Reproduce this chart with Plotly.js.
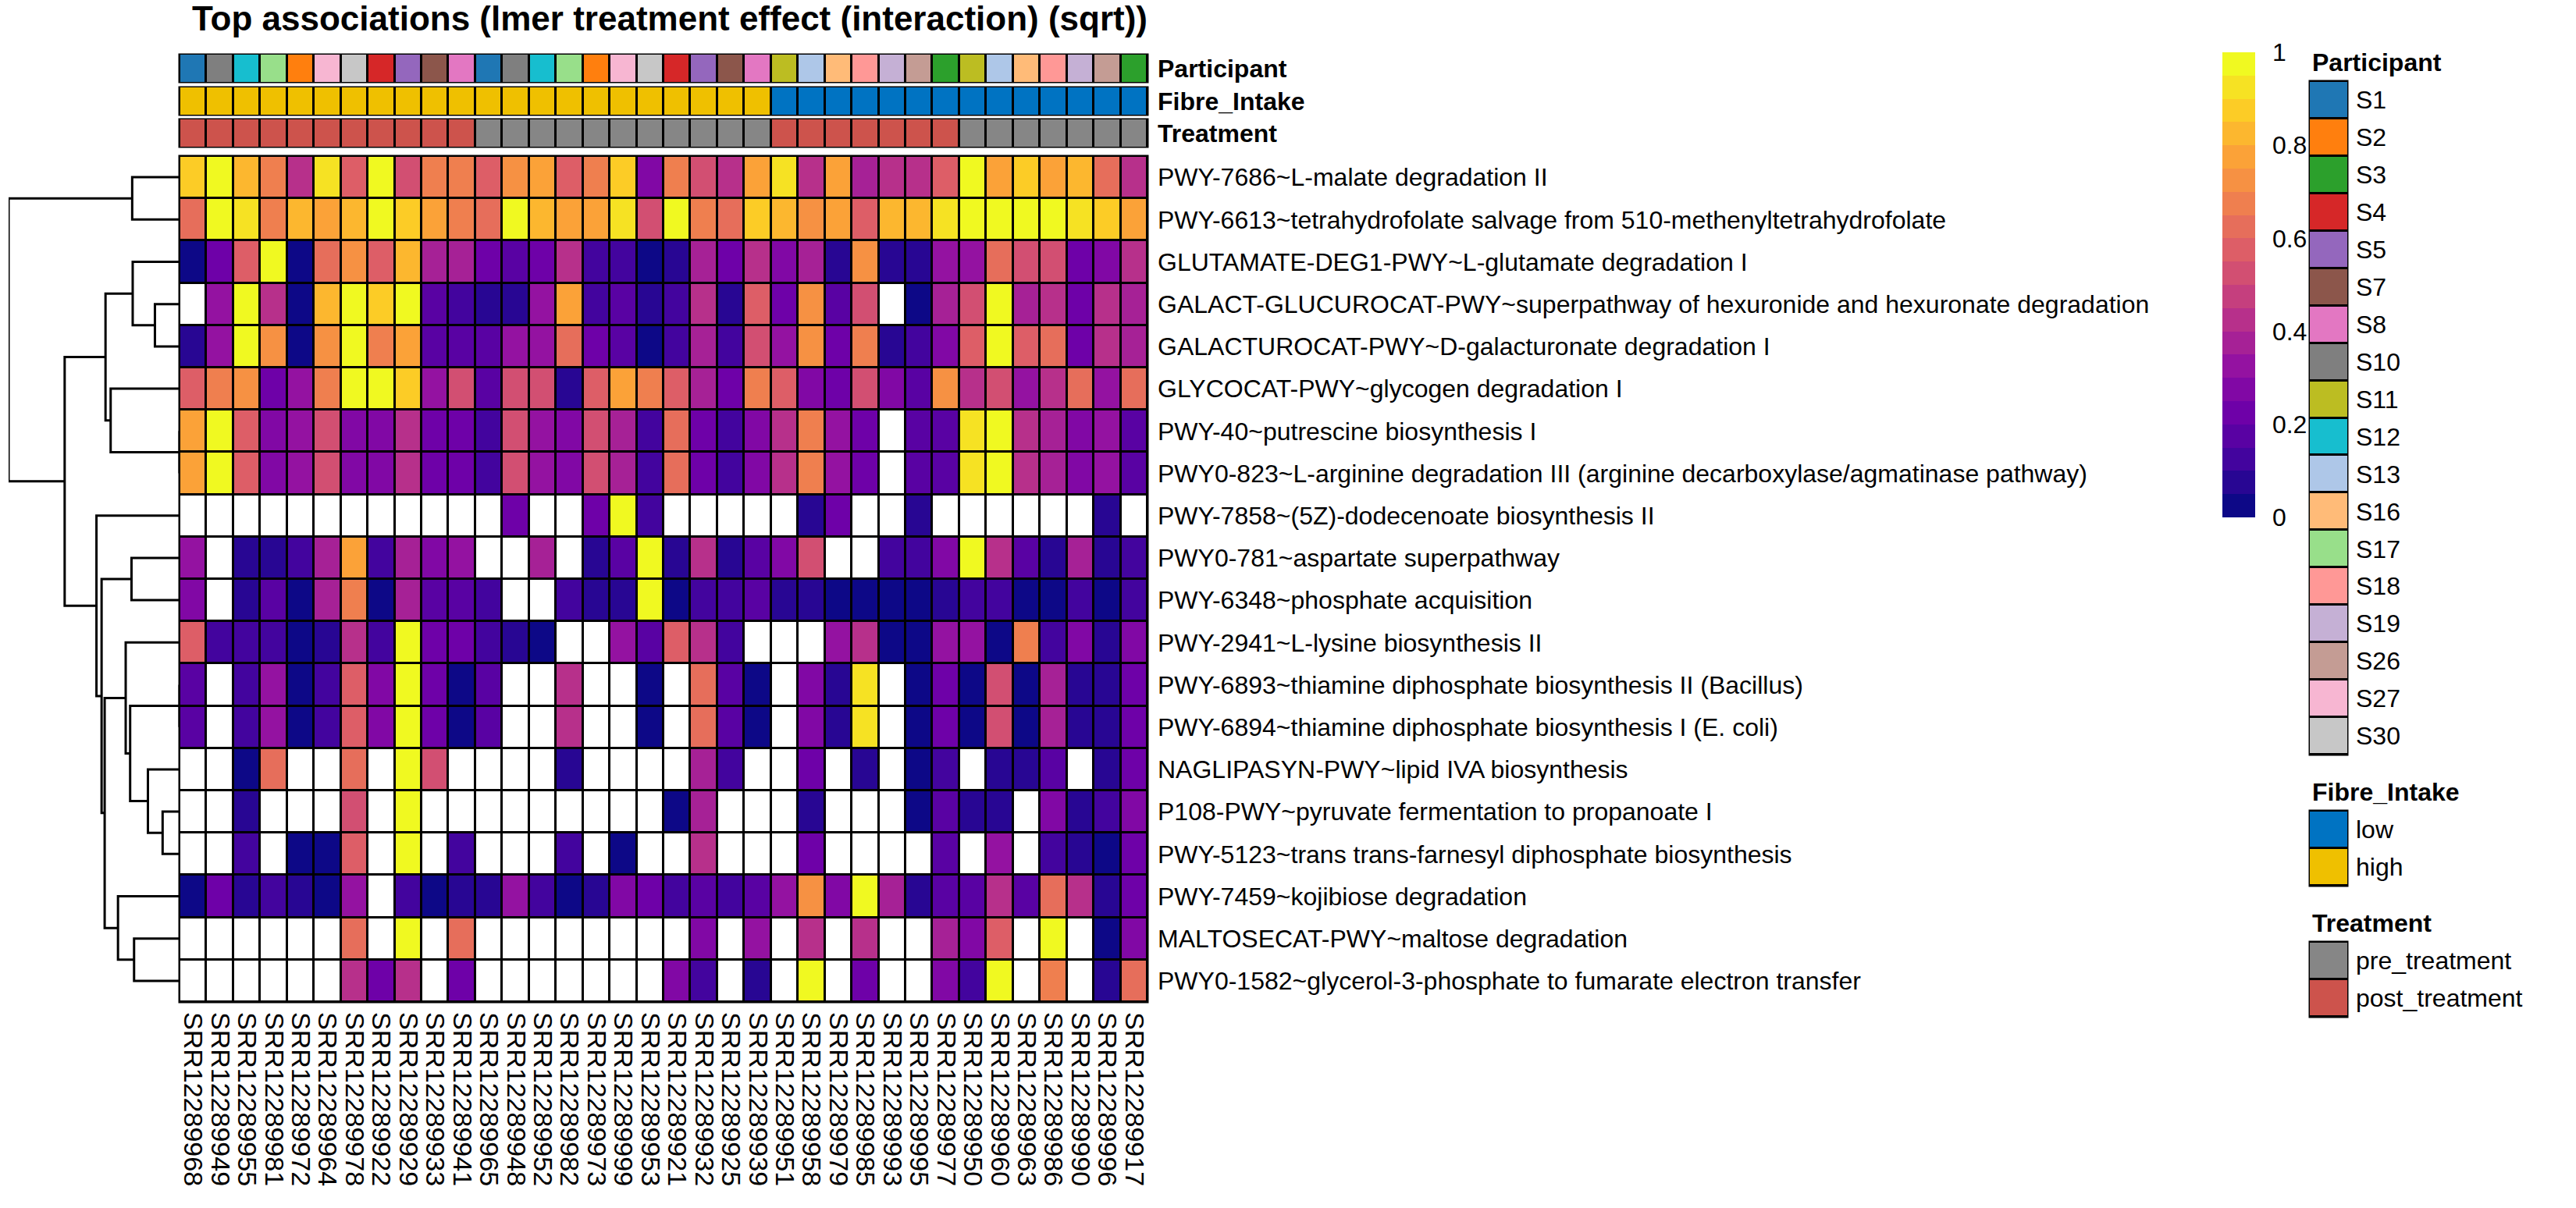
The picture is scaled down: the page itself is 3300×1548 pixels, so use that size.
<!DOCTYPE html>
<html><head><meta charset="utf-8">
<script src="https://cdn.plot.ly/plotly-3.0.1.min.js"></script>
<style>html,body{margin:0;padding:0;background:#fff;} #chart{width:3300px;height:1548px;}</style>
</head><body><div id="chart"></div>
<script>
// ---------------- DATA ----------------
const rowLabels = [
  "PWY-7686~L-malate degradation II",
  "PWY-6613~tetrahydrofolate salvage from 510-methenyltetrahydrofolate",
  "GLUTAMATE-DEG1-PWY~L-glutamate degradation I",
  "GALACT-GLUCUROCAT-PWY~superpathway of hexuronide and hexuronate degradation",
  "GALACTUROCAT-PWY~D-galacturonate degradation I",
  "GLYCOCAT-PWY~glycogen degradation I",
  "PWY-40~putrescine biosynthesis I",
  "PWY0-823~L-arginine degradation III (arginine decarboxylase/agmatinase pathway)",
  "PWY-7858~(5Z)-dodecenoate biosynthesis II",
  "PWY0-781~aspartate superpathway",
  "PWY-6348~phosphate acquisition",
  "PWY-2941~L-lysine biosynthesis II",
  "PWY-6893~thiamine diphosphate biosynthesis II (Bacillus)",
  "PWY-6894~thiamine diphosphate biosynthesis I (E. coli)",
  "NAGLIPASYN-PWY~lipid IVA biosynthesis",
  "P108-PWY~pyruvate fermentation to propanoate I",
  "PWY-5123~trans trans-farnesyl diphosphate biosynthesis",
  "PWY-7459~kojibiose degradation",
  "MALTOSECAT-PWY~maltose degradation",
  "PWY0-1582~glycerol-3-phosphate to fumarate electron transfer"
];
const colLabels = ["SRR12289968","SRR12289949","SRR12289955","SRR12289981","SRR12289972","SRR12289964",
  "SRR12289978","SRR12289922","SRR12289929","SRR12289933","SRR12289941","SRR12289965","SRR12289948",
  "SRR12289952","SRR12289982","SRR12289973","SRR12289999","SRR12289953","SRR12289921","SRR12289932",
  "SRR12289925","SRR12289939","SRR12289951","SRR12289958","SRR12289979","SRR12289985","SRR12289993",
  "SRR12289995","SRR12289977","SRR12289950","SRR12289960","SRR12289963","SRR12289986","SRR12289990",
  "SRR12289996","SRR12289917"];

const participants = ["S1","S10","S12","S17","S2","S27","S30","S4","S5","S7","S8",
  "S1","S10","S12","S17","S2","S27","S30","S4","S5","S7","S8",
  "S11","S13","S16","S18","S19","S26","S3",
  "S11","S13","S16","S18","S19","S26","S3"];
const fibreIntake = ["high","high","high","high","high","high","high","high","high","high","high",
  "high","high","high","high","high","high","high","high","high","high","high",
  "low","low","low","low","low","low","low","low","low","low","low","low","low","low"];
const treatment = ["post_treatment","post_treatment","post_treatment","post_treatment","post_treatment","post_treatment",
  "post_treatment","post_treatment","post_treatment","post_treatment","post_treatment",
  "pre_treatment","pre_treatment","pre_treatment","pre_treatment","pre_treatment","pre_treatment",
  "pre_treatment","pre_treatment","pre_treatment","pre_treatment","pre_treatment",
  "post_treatment","post_treatment","post_treatment","post_treatment","post_treatment","post_treatment","post_treatment",
  "pre_treatment","pre_treatment","pre_treatment","pre_treatment","pre_treatment","pre_treatment","pre_treatment"];

const participantLevels = ["S1","S2","S3","S4","S5","S7","S8","S10","S11","S12","S13","S16","S17","S18","S19","S26","S27","S30"];
const participantColors = ["#1F77B4","#FF7F0E","#2CA02C","#D62728","#9467BD","#8C564B","#E377C2","#7F7F7F","#BCBD22",
  "#17BECF","#AEC7E8","#FFBB78","#98DF8A","#FF9896","#C5B0D5","#C49C94","#F7B6D2","#C7C7C7"];
const fibreLevels = ["low","high"];
const fibreColors = ["#0073C2","#EFC000"];
const treatmentLevels = ["pre_treatment","post_treatment"];
const treatmentColors = ["#868686","#CD534C"];

const N = null;
const values = [
 [0.88,1.0,0.84,0.65,0.44,0.94,0.55,1.0,0.5,0.65,0.65,0.55,0.7, 0.76,0.55,0.65,0.88,0.27,0.65,0.5,0.44,0.76,0.94,0.44,0.76, 0.38,0.44,0.44,0.55,1.0,0.76,0.88,0.76,0.84,0.6,0.44],
 [0.6,1.0,0.94,0.65,0.84,0.76,0.84,1.0,0.88,0.76,0.65,0.6,1.0, 0.84,0.76,0.76,0.94,0.5,1.0,0.65,0.6,0.88,0.84,0.7,0.76, 0.55,0.84,0.84,0.94,1.0,1.0,1.0,1.0,0.94,0.88,0.76],
 [0.02,0.21,0.55,1.0,0.02,0.6,0.7,0.55,0.8,0.38,0.38,0.21,0.16, 0.21,0.44,0.11,0.11,0.02,0.06,0.38,0.21,0.44,0.27,0.38,0.06, 0.7,0.06,0.06,0.33,0.33,0.6,0.5,0.5,0.21,0.27,0.44],
 [N,0.33,1.0,0.44,0.02,0.84,1.0,0.88,1.0,0.16,0.11,0.06,0.06, 0.33,0.76,0.11,0.16,0.06,0.11,0.44,0.06,0.55,0.21,0.7,0.16, 0.5,N,0.02,0.38,0.5,1.0,0.38,0.44,0.21,0.44,0.38],
 [0.06,0.33,1.0,0.7,0.02,0.7,1.0,0.65,0.76,0.16,0.16,0.16,0.33, 0.33,0.6,0.21,0.16,0.02,0.11,0.38,0.11,0.5,0.33,0.7,0.21, 0.65,0.06,0.11,0.27,0.55,1.0,0.55,0.6,0.21,0.44,0.38],
 [0.55,0.65,0.7,0.21,0.33,0.65,1.0,1.0,0.88,0.33,0.5,0.16,0.5, 0.5,0.06,0.55,0.76,0.65,0.55,0.38,0.21,0.65,0.55,0.27,0.21, 0.5,0.27,0.16,0.7,0.44,0.5,0.33,0.44,0.6,0.33,0.6],
 [0.76,1.0,0.55,0.27,0.33,0.5,0.27,0.27,0.44,0.21,0.21,0.11,0.5, 0.33,0.27,0.5,0.38,0.11,0.6,0.21,0.11,0.27,0.44,0.65,0.33, 0.21,N,0.16,0.16,0.94,1.0,0.44,0.38,0.27,0.33,0.16],
 [0.76,1.0,0.55,0.27,0.33,0.5,0.27,0.27,0.44,0.21,0.21,0.11,0.5, 0.33,0.27,0.5,0.38,0.11,0.6,0.21,0.11,0.27,0.44,0.65,0.33, 0.21,N,0.16,0.16,0.94,1.0,0.44,0.38,0.27,0.33,0.16],
 [N,N,N,N,N,N,N,N,N,N,N,N,0.21, N,N,0.21,1.0,0.11,N,N,N,N,N,0.06,0.21, N,N,0.06,N,N,N,N,N,N,0.06,N],
 [0.33,N,0.06,0.06,0.11,0.38,0.76,0.11,0.38,0.27,0.33,N,N, 0.38,N,0.06,0.16,1.0,0.06,0.44,0.06,0.16,0.27,0.5,N, N,0.11,0.11,0.27,1.0,0.44,0.16,0.06,0.38,0.06,0.11],
 [0.27,N,0.06,0.16,0.02,0.38,0.65,0.02,0.38,0.16,0.16,0.11,N, N,0.11,0.06,0.06,1.0,0.02,0.11,0.11,0.16,0.06,0.06,0.02, 0.02,0.02,0.02,0.06,0.11,0.11,0.02,0.02,0.11,0.02,0.11],
 [0.55,0.11,0.11,0.11,0.02,0.06,0.44,0.11,1.0,0.21,0.21,0.11,0.06, 0.02,N,N,0.33,0.16,0.55,0.44,0.11,N,N,N,0.33, 0.44,0.02,0.02,0.33,0.33,0.02,0.65,0.11,0.27,0.06,0.27],
 [0.16,N,0.11,0.33,0.02,0.11,0.55,0.27,1.0,0.21,0.02,0.16,N, N,0.44,N,N,0.02,N,0.6,0.16,0.02,N,0.27,0.06, 0.94,N,0.02,0.21,0.02,0.5,0.02,0.38,0.06,0.06,0.21],
 [0.16,N,0.11,0.33,0.02,0.11,0.55,0.27,1.0,0.21,0.02,0.16,N, N,0.44,N,N,0.02,N,0.6,0.16,0.02,N,0.27,0.06, 0.94,N,0.02,0.21,0.02,0.5,0.02,0.38,0.06,0.06,0.21],
 [N,N,0.02,0.6,N,N,0.6,N,1.0,0.5,N,N,N, N,0.06,N,N,N,N,0.38,0.11,N,N,0.21,N, 0.06,N,0.02,0.11,N,0.06,0.06,0.16,N,0.06,0.21],
 [N,N,0.06,N,N,N,0.5,N,1.0,N,N,N,N, N,N,N,N,N,0.02,0.38,N,N,N,0.06,N, N,N,0.02,0.16,0.06,0.06,N,0.27,0.06,0.11,0.27],
 [N,N,0.11,N,0.02,0.02,0.55,N,1.0,N,0.11,N,N, N,0.11,N,0.02,N,N,0.44,N,N,N,0.21,N, N,N,N,0.16,N,0.33,N,0.11,0.06,0.02,0.21],
 [0.02,0.21,0.06,0.11,0.06,0.02,0.33,N,0.11,0.02,0.06,0.06,0.33, 0.11,0.02,0.06,0.27,0.21,0.11,0.16,0.11,0.16,0.33,0.7,0.27, 1.0,0.38,0.06,0.16,0.16,0.44,0.16,0.6,0.44,0.06,0.21],
 [N,N,N,N,N,N,0.6,N,1.0,N,0.6,N,N, N,N,N,N,N,N,0.27,N,0.33,N,0.44,N, 0.44,N,N,0.38,0.27,0.55,N,1.0,N,0.02,0.27],
 [N,N,N,N,N,N,0.44,0.21,0.44,N,0.21,N,N, N,N,N,N,N,0.27,0.11,N,0.06,N,1.0,N, 0.21,N,N,0.27,0.11,1.0,N,0.65,N,0.06,0.6]
];

// row dendrogram (hclust-style merges: negative = row leaf, positive = earlier merge)
const mergeLeft   = [-7, -13, -16, -4, -15, -19, -3, -1, -10, 2, -12, -18, -6, 7, 11, 9, -9, 14, 8];
const mergeRight  = [-8, -14, -17, -5, 3, -20, 4, -2, -11, 5, 10, 6, 1, 13, 12, 15, 16, 17, 18];
const mergeHeight = [0.0, 0.0, 0.099, 0.144, 0.185, 0.266, 0.274, 0.277, 0.281, 0.289, 0.315, 0.360, 0.403, 0.433, 0.438, 0.456, 0.486, 0.672, 1.0];

const colorbarTicks = [0, 0.2, 0.4, 0.6, 0.8, 1];
const plasmaAnchors = ["#0d0887","#41049d","#6a00a8","#8f0da4","#b12a90","#cc4778","#e16462","#f2844b","#fca636","#fcce25","#f0f921"];

// ---------------- BUILD ----------------
const W = 3300, H = 1548;
const FONT = "Liberation Sans, Arial, sans-serif";
const px = v => v / W;
const py = v => 1 - v / H;

function hex2rgb(h){ return [parseInt(h.substr(1,2),16),parseInt(h.substr(3,2),16),parseInt(h.substr(5,2),16)]; }
function plasma(t){
  const n = plasmaAnchors.length - 1;
  const f = Math.min(Math.max(t,0),1) * n;
  const i = Math.min(Math.floor(f), n-1);
  const u = f - i;
  const a = hex2rgb(plasmaAnchors[i]), b = hex2rgb(plasmaAnchors[i+1]);
  const c = a.map((v,k)=>Math.round(v + (b[k]-v)*u));
  return `rgb(${c[0]},${c[1]},${c[2]})`;
}
const NB = 20;
const stepScale = [];
for (let k = 0; k < NB; k++) {
  const c = plasma(k/(NB-1));
  stepScale.push([k/NB, c]); stepScale.push([(k+1)/NB, c]);
}
function discreteScale(colors){
  const n = colors.length, s = [];
  colors.forEach((c,i)=>{ s.push([i/n,c]); s.push([(i+1)/n,c]); });
  return s;
}

const nRows = rowLabels.length, nCols = colLabels.length;
const rowIdx = rowLabels.map((_,i)=>i);
const colIdx = colLabels.map((_,i)=>i);

// domains (pixel layout)
const heatX = [px(230), px(1470)];
const heatY = [py(1284), py(200)];
const annRows = [
  {name:"Participant", vals:participants, levels:participantLevels, colors:participantColors, top:70, bot:105, ax:"y3"},
  {name:"Fibre_Intake", vals:fibreIntake, levels:fibreLevels, colors:fibreColors, top:112, bot:147, ax:"y4"},
  {name:"Treatment", vals:treatment, levels:treatmentLevels, colors:treatmentColors, top:153, bot:188, ax:"y5"}
];
const legends = [
  {title:"Participant", levels:participantLevels, colors:participantColors, top:104, bot:967, titleY:80, xa:"x3", ya:"y6"},
  {title:"Fibre_Intake", levels:fibreLevels, colors:fibreColors, top:1039, bot:1135, titleY:1015, xa:"x4", ya:"y7"},
  {title:"Treatment", levels:treatmentLevels, colors:treatmentColors, top:1207, bot:1303, titleY:1183, xa:"x5", ya:"y8"}
];
const legX = [px(2959), px(3007)];

const traces = [];
const shapes = [];
const annotations = [];

function frame(xd, yd){
  shapes.push({type:"rect", xref:"paper", yref:"paper", x0:xd[0], x1:xd[1], y0:yd[0], y1:yd[1],
    fillcolor:"#000", line:{color:"#000", width:3}, layer:"below"});
}

// main heatmap: white under-layer for NA cells, then values
frame(heatX, heatY);
traces.push({type:"heatmap", x:colIdx, y:rowIdx, z:values.map(r=>r.map(()=>0)),
  colorscale:[[0,"#fff"],[1,"#fff"]], showscale:false, xgap:3, ygap:3, hoverinfo:"skip", xaxis:"x", yaxis:"y"});
traces.push({type:"heatmap", x:colIdx, y:rowIdx, z:values, zmin:0, zmax:1, colorscale:stepScale,
  xgap:3, ygap:3, xaxis:"x", yaxis:"y", hoverongaps:false,
  colorbar:{x:px(2847), xanchor:"left", xref:"paper", xpad:0, ypad:0,
    y:py(67), yanchor:"top", len:(663-67)/H, lenmode:"fraction",
    thickness:42, thicknessmode:"pixels", outlinewidth:0,
    tickvals:colorbarTicks, ticktext:colorbarTicks.map(String),
    ticks:"outside", ticklen:16, tickcolor:"rgba(0,0,0,0)",
    tickfont:{family:FONT, size:32, color:"#000"}}});

// annotation bars
annRows.forEach(a=>{
  const yd = [py(a.bot), py(a.top)];
  frame(heatX, yd);
  traces.push({type:"heatmap", x:colIdx, y:[0], z:[a.vals.map(v=>a.levels.indexOf(v))],
    zmin:-0.5, zmax:a.levels.length-0.5, colorscale:discreteScale(a.colors), showscale:false,
    xgap:3, ygap:0, xaxis:"x", yaxis:a.ax, hoverinfo:"skip"});
  a.domain = yd;
});

// dendrogram
const nodeY = [], nodeH = [];
function pos(id){ return id < 0 ? {y:-id-1, h:0} : {y:nodeY[id-1], h:nodeH[id-1]}; }
const dx = [], dy = [];
for (let m = 0; m < mergeLeft.length; m++) {
  const a = pos(mergeLeft[m]), b = pos(mergeRight[m]), h = mergeHeight[m];
  dx.push(a.h, h, h, b.h, null); dy.push(a.y, a.y, b.y, b.y, null);
  nodeY.push((a.y + b.y)/2); nodeH.push(h);
}
traces.push({type:"scatter", mode:"lines", x:dx, y:dy, xaxis:"x2", yaxis:"y",
  line:{color:"#000", width:3}, hoverinfo:"skip", showlegend:false, cliponaxis:false});

// legends as 1-column heatmaps
legends.forEach(l=>{
  const yd = [py(l.bot), py(l.top)];
  frame(legX, yd);
  traces.push({type:"heatmap", x:[0], y:l.levels.map((_,i)=>i), z:l.levels.map((_,i)=>[i]),
    zmin:-0.5, zmax:l.levels.length-0.5, colorscale:discreteScale(l.colors), showscale:false,
    xgap:0, ygap:3, xaxis:l.xa, yaxis:l.ya, hoverinfo:"skip"});
  annotations.push({xref:"paper", yref:"paper", x:px(2960), y:py(l.titleY), xanchor:"left", yanchor:"middle",
    text:"<b>"+l.title+"</b>", showarrow:false, font:{family:FONT, size:32, color:"#000"}});
  l.domain = yd;
});

const hidden = {showgrid:false, zeroline:false, showline:false, showticklabels:false, ticks:""};
const layout = {
  width:W, height:H, margin:{l:0,r:0,t:0,b:0, autoexpand:false},
  paper_bgcolor:"#fff", plot_bgcolor:"rgba(0,0,0,0)",
  font:{family:FONT, size:32, color:"#000"},
  showlegend:false,
  title:{text:"<b>Top associations (lmer treatment effect (interaction) (sqrt))</b>",
    font:{family:FONT, size:44, color:"#000"}, x:px(858), xanchor:"center", xref:"paper",
    y:py(24), yanchor:"middle", yref:"paper"},
  xaxis:{domain:heatX, anchor:"y", range:[-0.5, nCols-0.5], showgrid:false, zeroline:false, showline:false,
    tickvals:colIdx, ticktext:colLabels, tickangle:90, ticks:"", ticklabelstandoff:12,
    tickfont:{family:FONT, size:34, color:"#000"}},
  yaxis:{domain:heatY, anchor:"x", range:[nRows-0.5, -0.5], side:"right", showgrid:false, zeroline:false, showline:false,
    tickvals:rowIdx, ticktext:rowLabels, ticks:"", ticklabelstandoff:12,
    tickfont:{family:FONT, size:32, color:"#000"}},
  xaxis2:Object.assign({domain:[px(11), px(230)], anchor:"y", range:[1, 0]}, hidden),
  shapes:shapes, annotations:annotations
};
annRows.forEach((a,i)=>{
  layout["yaxis"+(3+i)] = {domain:a.domain, anchor:"x", range:[-0.5,0.5], side:"right", showgrid:false,
    zeroline:false, showline:false, ticks:"", tickvals:[0], ticktext:["<b>"+a.name+"</b>"], ticklabelstandoff:12,
    tickfont:{family:FONT, size:32, color:"#000"}};
});
legends.forEach((l,i)=>{
  layout["xaxis"+(3+i)] = Object.assign({domain:legX, anchor:l.ya, range:[-0.5,0.5]}, hidden);
  layout["yaxis"+(6+i)] = {domain:l.domain, anchor:l.xa, range:[l.levels.length-0.5,-0.5], side:"right",
    showgrid:false, zeroline:false, showline:false, ticks:"", tickvals:l.levels.map((_,k)=>k),
    ticktext:l.levels, ticklabelstandoff:10, tickfont:{family:FONT, size:32, color:"#000"}};
});

Plotly.newPlot("chart", traces, layout, {staticPlot:true, displayModeBar:false});
</script></body></html>
